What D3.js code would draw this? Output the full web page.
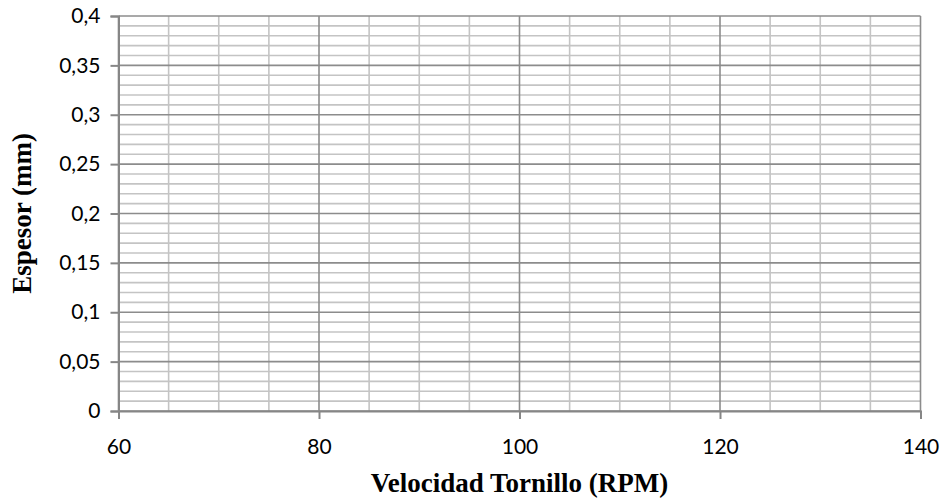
<!DOCTYPE html>
<html><head><meta charset="utf-8">
<script src="https://cdn.jsdelivr.net/npm/d3@7"></script>
<style>body{margin:0;background:#fff}svg{display:block}</style>
</head><body>
<svg id="c" width="946" height="503"></svg>
<script>
const xDomain = [60, 140];
const yDomain = [0, 0.4];
const xMajorTicks = [60, 80, 100, 120, 140];
const xMinorTicks = [65, 70, 75, 85, 90, 95, 105, 110, 115, 125, 130, 135];
const yMajorTicks = [0, 0.05, 0.1, 0.15, 0.2, 0.25, 0.3, 0.35, 0.4];
const yMinorTicks = [0.01,0.02,0.03,0.04,0.06,0.07,0.08,0.09,0.11,0.12,0.13,0.14,0.16,0.17,0.18,0.19,0.21,0.22,0.23,0.24,0.26,0.27,0.28,0.29,0.31,0.32,0.33,0.34,0.36,0.37,0.38,0.39];
const xTitle = "Velocidad Tornillo (RPM)";
const yTitle = "Espesor (mm)";

const svg = d3.select("#c");
const L = 118.5, R = 920.5, T = 16, B = 411;
const x = d3.scaleLinear().domain(xDomain).range([L, R]);
const y = d3.scaleLinear().domain(yDomain).range([B, T]);
const fmt = d => String(+d.toFixed(2)).replace(".", ",");

const g = svg.append("g");
// minor grid
g.selectAll(".ymin").data(yMinorTicks).join("line")
  .attr("x1", L).attr("x2", R).attr("y1", d => y(d)).attr("y2", d => y(d))
  .attr("stroke", "#c4c4c4").attr("stroke-width", 1.6);
g.selectAll(".xmin").data(xMinorTicks).join("line")
  .attr("y1", T).attr("y2", B).attr("x1", d => x(d)).attr("x2", d => x(d))
  .attr("stroke", "#c4c4c4").attr("stroke-width", 1.6);
// major grid
g.selectAll(".ymaj").data(yMajorTicks).join("line")
  .attr("x1", L).attr("x2", R).attr("y1", d => y(d)).attr("y2", d => y(d))
  .attr("stroke", "#8c8c8c").attr("stroke-width", 1.6);
g.selectAll(".xmaj").data(xMajorTicks).join("line")
  .attr("y1", T).attr("y2", B).attr("x1", d => x(d)).attr("x2", d => x(d))
  .attr("stroke", "#8c8c8c").attr("stroke-width", 1.6);

// axes
const xAxis = d3.axisBottom(x).tickValues(xMajorTicks).tickSize(8).tickFormat(d => d);
const yAxis = d3.axisLeft(y).tickValues(yMajorTicks).tickSize(8).tickPadding(10).tickFormat(fmt);
const ax = svg.append("g").attr("transform", `translate(0,${B})`).call(xAxis);
const ay = svg.append("g").attr("transform", `translate(${L},0)`).call(yAxis);
[ax, ay].forEach(a => {
  a.select(".domain").attr("stroke", "#868686").attr("stroke-width", 2);
  a.selectAll(".tick line").attr("stroke", "#868686").attr("stroke-width", 2);
  a.selectAll(".tick text").attr("fill", "#000").style("font-family", "Lato, 'Open Sans', sans-serif").style("font-size", "21px");
});
ax.selectAll(".tick text").attr("y", 43).attr("dy", 0);

svg.append("text").attr("x", (L + R) / 2).attr("y", 492).attr("text-anchor", "middle")
  .style("font-family", "'Liberation Serif', 'Times New Roman', serif").style("font-weight", "bold").style("font-size", "27px")
  .text(xTitle);
svg.append("text").attr("transform", `translate(31,${(T + B) / 2}) rotate(-90)`).attr("text-anchor", "middle")
  .style("font-family", "'Liberation Serif', 'Times New Roman', serif").style("font-weight", "bold").style("font-size", "27px")
  .text(yTitle);
</script>
</body></html>
